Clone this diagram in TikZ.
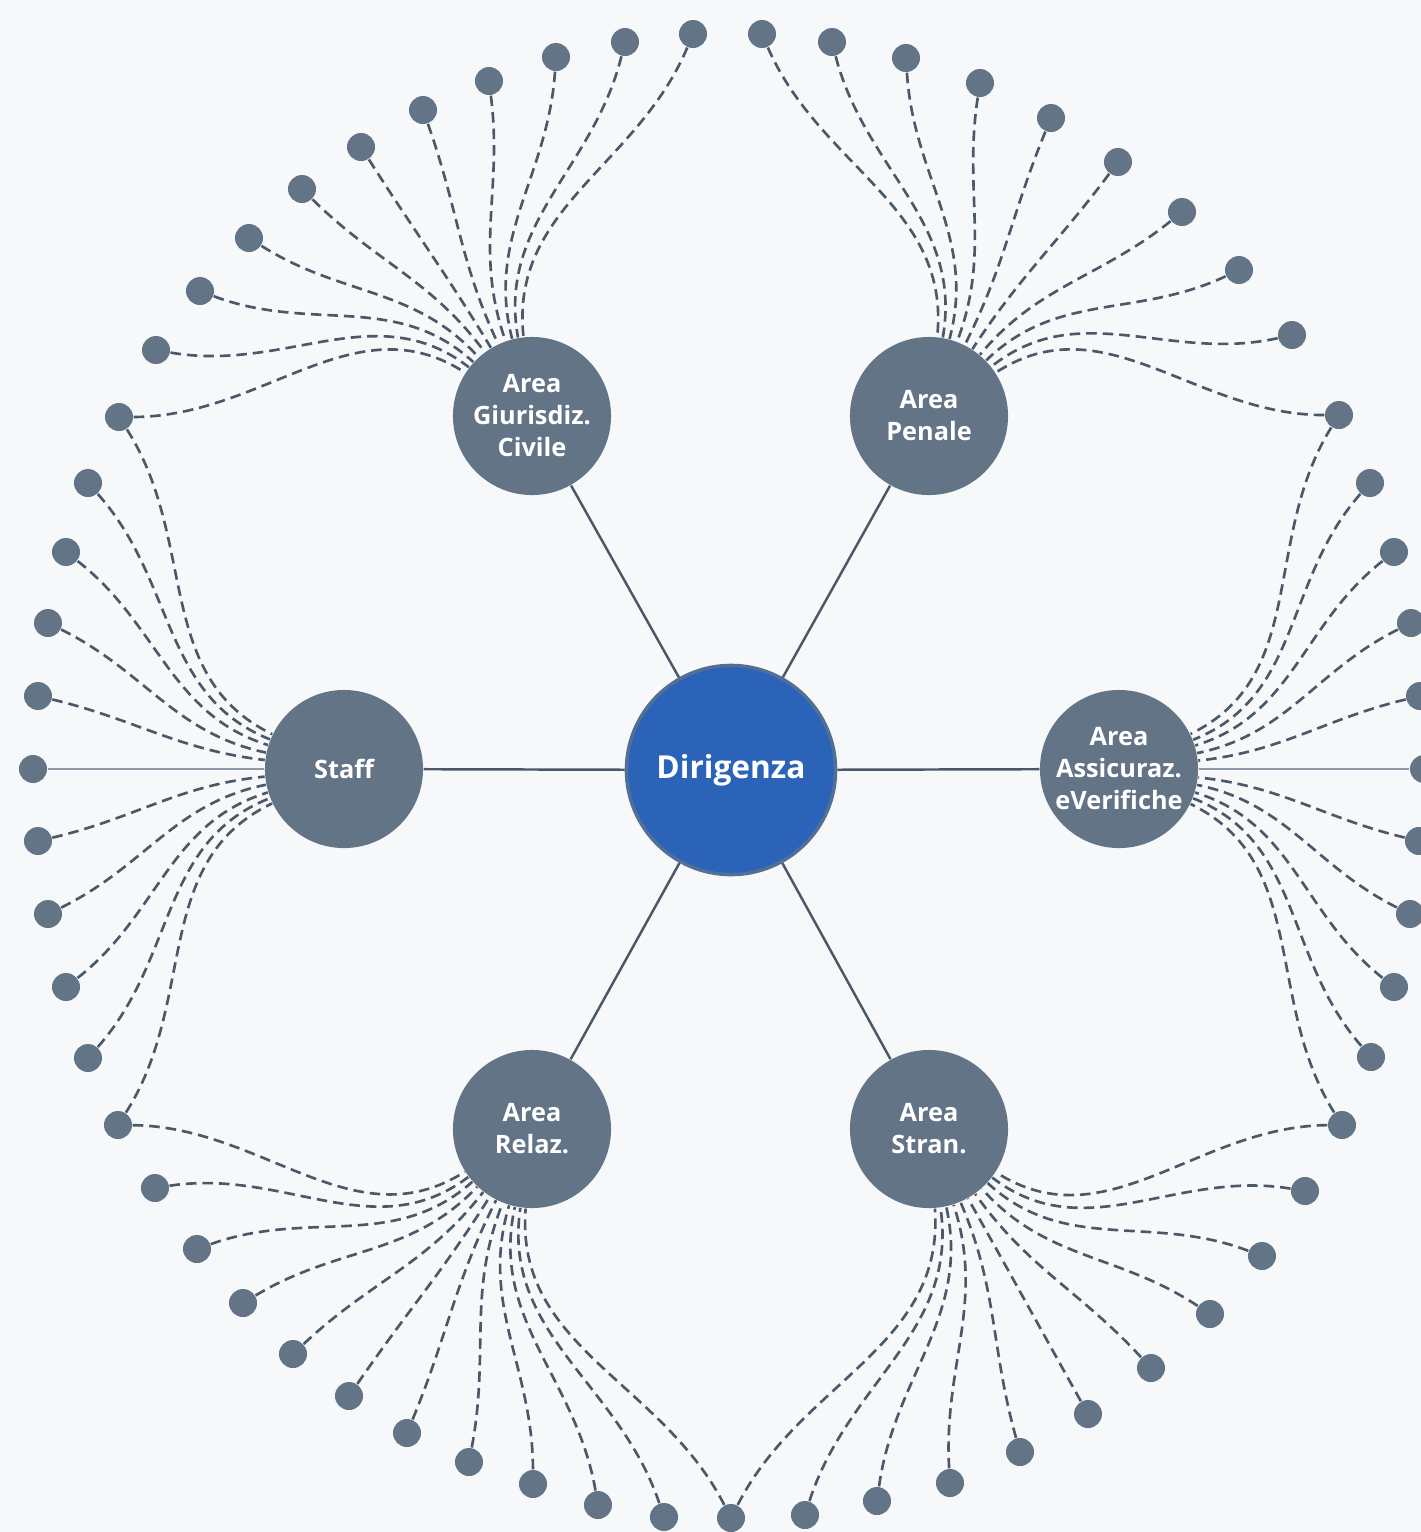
\documentclass[tikz,border=0pt]{standalone}
\usepackage{fontspec}
\setsansfont{Open Sans}

\definecolor{paper}{HTML}{F7F8FA}
\definecolor{slate}{HTML}{637487}
\definecolor{dirblue}{HTML}{2A63B7}
\definecolor{wire}{HTML}{4A5868}
\definecolor{pale}{HTML}{8E9AA7}

% dashed link from a leaf to an area, bent towards the area's main direction
\newcommand\leaflink[3]{%
  \pgfmathanglebetweenpoints{\pgfpointanchor{#2}{center}}{\pgfpointanchor{#1}{center}}%
  \pgfmathsetmacro\lkdev{mod(\pgfmathresult-(#3)+540,360)-180}%
  \pgfmathsetmacro\lkin{#3+0.45*\lkdev}%
  \pgfmathsetmacro\lkout{#3+\lkdev+180}%
  \draw[link] (#1) to[out=\lkout,in=\lkin] (#2);}

\begin{document}
\begin{tikzpicture}[x=0.01cm,y=0.01cm,
    area/.style={circle,fill=slate,minimum size=1.58cm,inner sep=0pt,text=white,align=center,
      font=\sffamily\bfseries\fontsize{7.2}{9.1}\selectfont},
    leaf/.style={circle,fill=slate,minimum size=0.28cm,inner sep=0pt},
    link/.style={draw=wire,line width=0.75pt,dash pattern=on 3pt off 1.7pt},
    spoke/.style={draw=wire,line width=0.7pt},
    flat/.style={draw=pale,line width=0.7pt}]
  \useasboundingbox (0,0) rectangle (1421,-1532);
  \fill[paper] (0,0) rectangle (1421,-1532);

  \node[circle,fill=dirblue,draw=slate!70!dirblue,line width=1pt,minimum size=2.09cm,inner sep=0pt,
    text=white,font=\sffamily\bfseries\fontsize{9}{11}\selectfont] (dir) at (731,-770) {Dirigenza};
  \node[area] (civile) at (532,-416) {Area\\Giurisdiz.\\Civile};
  \node[area] (penale) at (929,-416) {Area\\Penale};
  \node[area] (staff) at (344,-769) {Staff};
  \node[area] (assic) at (1119,-769) {Area\\Assicuraz.\\eVerifiche};
  \node[area] (relaz) at (532,-1129) {Area\\Relaz.};
  \node[area] (stran) at (929,-1129) {Area\\Stran.};

  \foreach \a in {civile,penale,staff,assic,relaz,stran}
    \draw[spoke] (dir) -- (\a);

  % leaves shared by two areas
  \node[leaf] (nw) at (119,-417) {};
  \node[leaf] (ne) at (1339,-415) {};
  \node[leaf] (sw) at (118,-1125) {};
  \node[leaf] (se) at (1342,-1125) {};
  \node[leaf] (so) at (731,-1518) {};
  \leaflink{nw}{civile}{120} \leaflink{nw}{staff}{180}
  \leaflink{ne}{penale}{60} \leaflink{ne}{assic}{0}
  \leaflink{sw}{staff}{180} \leaflink{sw}{relaz}{240}
  \leaflink{se}{assic}{0} \leaflink{se}{stran}{300}
  \leaflink{so}{relaz}{240} \leaflink{so}{stran}{300}

  % leaves on a straight line
  \node[leaf] (w) at (33,-769) {};
  \node[leaf] (e) at (1424,-769) {};
  \draw[flat] (w) -- (staff);
  \draw[flat] (e) -- (assic);

  \foreach \x/\y [count=\i] in {693/-34,625/-42,556/-57,489/-81,423/-110,361/-147,302/-189,249/-238,200/-291,156/-350} {
    \node[leaf] (lc\i) at (\x,\y) {};
    \leaflink{lc\i}{civile}{120}
  }
  \foreach \x/\y [count=\i] in {762/-34,832/-42,906/-58,980/-83,1051/-118,1118/-162,1182/-212,1239/-270,1292/-335} {
    \node[leaf] (lp\i) at (\x,\y) {};
    \leaflink{lp\i}{penale}{60}
  }
  \foreach \x/\y [count=\i] in {88/-483,66/-552,48/-623,38/-696,38/-841,48/-914,66/-987,88/-1058} {
    \node[leaf] (ls\i) at (\x,\y) {};
    \leaflink{ls\i}{staff}{180}
  }
  \foreach \x/\y [count=\i] in {1370/-483,1394/-552,1411/-623,1420/-696,1419/-841,1410/-914,1394/-987,1371/-1057} {
    \node[leaf] (la\i) at (\x,\y) {};
    \leaflink{la\i}{assic}{0}
  }
  \foreach \x/\y [count=\i] in {155/-1188,197/-1249,243/-1303,293/-1354,349/-1396,407/-1433,469/-1462,533/-1484,598/-1505,664/-1517} {
    \node[leaf] (lr\i) at (\x,\y) {};
    \leaflink{lr\i}{relaz}{240}
  }
  \foreach \x/\y [count=\i] in {805/-1515,877/-1501,950/-1483,1020/-1452,1088/-1414,1151/-1368,1210/-1314,1262/-1256,1305/-1191} {
    \node[leaf] (lt\i) at (\x,\y) {};
    \leaflink{lt\i}{stran}{300}
  }
\end{tikzpicture}
\end{document}
